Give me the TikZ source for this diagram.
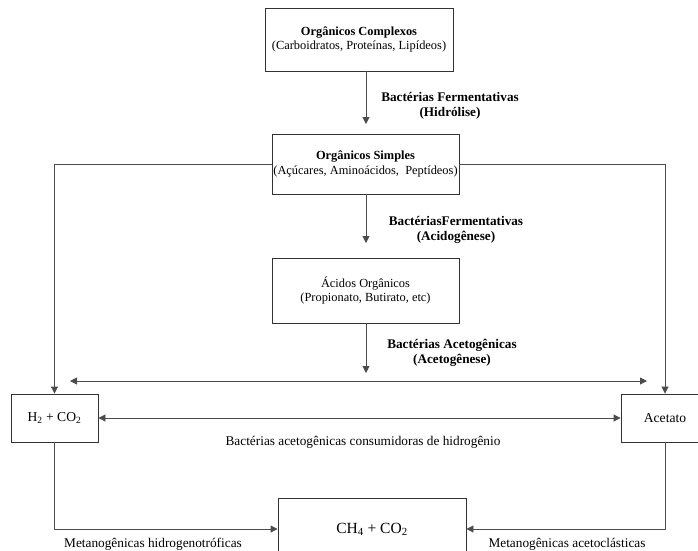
\documentclass[tikz,border=0pt]{standalone}
\usepackage{fontspec}
\setmainfont{Liberation Serif}
\usetikzlibrary{arrows.meta}
\begin{document}
\begin{tikzpicture}[x=1pt,y=-1pt,
  box/.style={draw=black!80, line width=0.9pt, fill=white, inner sep=0pt, align=center,
    font=\fontsize{12.4}{14.5}\selectfont},
  sbox/.style={box, font=\fontsize{13.6}{15}\selectfont},
  lbl/.style={font=\fontsize{13.3}{15.5}\selectfont, align=center, inner sep=0pt},
  blbl/.style={lbl, font=\fontsize{13.2}{15.5}\selectfont\bfseries},
  conn/.style={draw=black!70, line width=0.9pt},
  tip/.style={-{Triangle[length=7pt,width=7pt]}},
  dtip/.style={{Triangle[length=7pt,width=7pt]}-{Triangle[length=7pt,width=7pt]}}
]
\clip (0,0) rectangle (698,550);
\fill[white] (0,0) rectangle (698,550);

% boxes
\node[box, minimum width=188pt, minimum height=63pt] (c1) at (359,39.5)
  {\textbf{Orgânicos Complexos}\\(Carboidratos, Proteínas, Lipídeos)};
\node[box, minimum width=187pt, minimum height=60pt] (c2) at (365.5,164)
  {\textbf{Orgânicos Simples}\\(Açúcares, Aminoácidos,\ \ Peptídeos)};
\node[box, minimum width=187pt, minimum height=65pt] (c3) at (365.5,290.5)
  {Ácidos Orgânicos\\(Propionato, Butirato, etc)};
\node[sbox, minimum width=87pt, minimum height=48pt] (h2) at (54.5,418)
  {H\textsubscript{2} + CO\textsubscript{2}};
\node[sbox, minimum width=88pt, minimum height=48pt] (ac) at (665,418)
  {Acetato};
\node[box, font=\fontsize{15.5}{17}\selectfont, minimum width=188pt, minimum height=62pt] (ch) at (372,529)
  {CH\textsubscript{4} + CO\textsubscript{2}};

% labels
\node[blbl] (l1) at (450,106) {Bactérias Fermentativas\\(Hidrólise)};
\node[blbl] (l2) at (456,230) {BactériasFermentativas\\(Acidogênese)};
\node[blbl] (l3) at (452,353) {Bactérias Acetogênicas\\(Acetogênese)};
\node[lbl] (l4) at (363,442) {Bactérias acetogênicas consumidoras de hidrogênio};
\node[lbl] (l5) at (153,544) {Metanogênicas hidrogenotróficas};
\node[lbl] (l6) at (567,544) {Metanogênicas acetoclásticas};

% helper coordinates
\coordinate (ax) at (366,0);
\coordinate (t1) at (366,124);
\coordinate (t2) at (366,243);
\coordinate (t3) at (366,373);
\coordinate (dl) at (70,381);
\coordinate (dr) at (647,381);

% connectors
\draw[conn,tip] (c1.south -| ax) -- (t1);
\draw[conn,tip] (c2.south -| ax) -- (t2);
\draw[conn,tip] (c3.south -| ax) -- (t3);
\draw[conn,tip] (c2.west) -| (h2.north);
\draw[conn,tip] (c2.east) -| (ac.north);
\draw[conn,dtip] (dl) -- (dr);
\draw[conn,dtip] (h2.east) -- (ac.west);
\draw[conn,tip] (h2.south) |- (ch.west);
\draw[conn,tip] (ac.south) |- (ch.east);
\end{tikzpicture}
\end{document}
